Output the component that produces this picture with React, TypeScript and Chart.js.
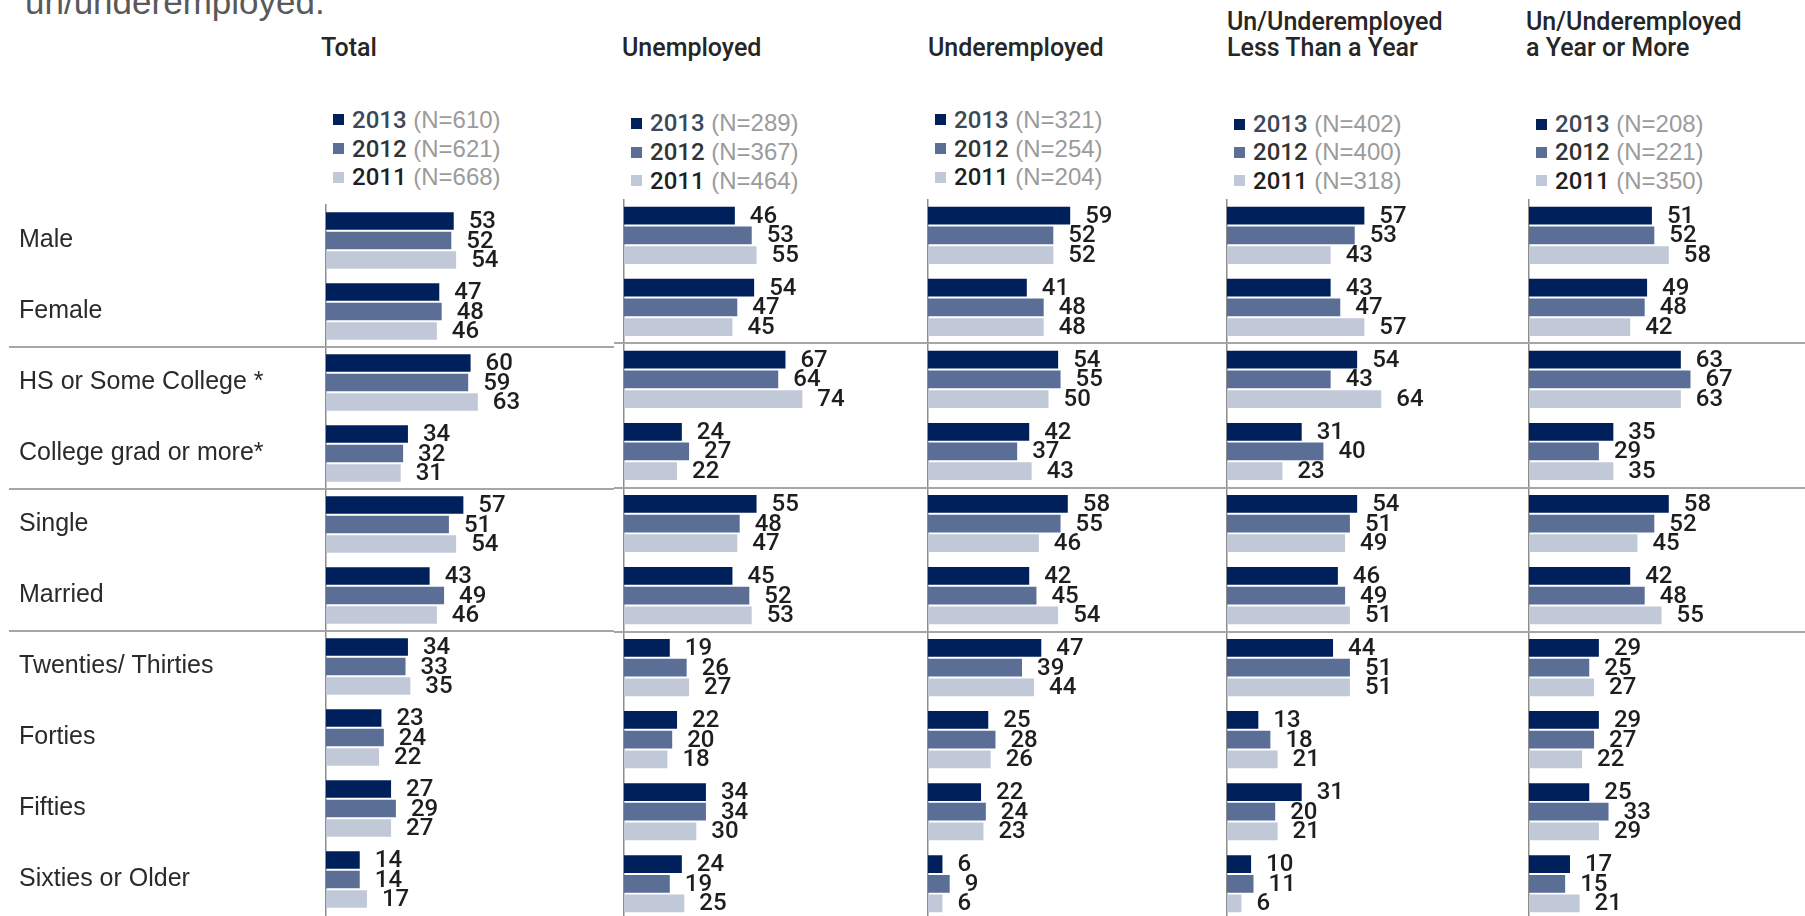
import React, { useEffect, useRef } from 'react';
import { Chart, registerables } from 'chart.js';

Chart.register(...registerables);

// ---------- DATA ----------
const categories = [
  'Male',
  'Female',
  'HS or Some College *',
  'College grad or more*',
  'Single',
  'Married',
  'Twenties/ Thirties',
  'Forties',
  'Fifties',
  'Sixties or Older',
];
const years = ['2013', '2012', '2011'];
const groupBreaks = [2, 4, 6];

const panelTitles = [
  ['Total'],
  ['Unemployed'],
  ['Underemployed'],
  ['Un/Underemployed', 'Less Than a Year'],
  ['Un/Underemployed', 'a Year or More'],
];

const totalN = [610, 621, 668];
const unemployedN = [289, 367, 464];
const underemployedN = [321, 254, 204];
const lessYearN = [402, 400, 318];
const yearMoreN = [208, 221, 350];

const total2013 = [53, 47, 60, 34, 57, 43, 34, 23, 27, 14];
const total2012 = [52, 48, 59, 32, 51, 49, 33, 24, 29, 14];
const total2011 = [54, 46, 63, 31, 54, 46, 35, 22, 27, 17];

const unemployed2013 = [46, 54, 67, 24, 55, 45, 19, 22, 34, 24];
const unemployed2012 = [53, 47, 64, 27, 48, 52, 26, 20, 34, 19];
const unemployed2011 = [55, 45, 74, 22, 47, 53, 27, 18, 30, 25];

const underemployed2013 = [59, 41, 54, 42, 58, 42, 47, 25, 22, 6];
const underemployed2012 = [52, 48, 55, 37, 55, 45, 39, 28, 24, 9];
const underemployed2011 = [52, 48, 50, 43, 46, 54, 44, 26, 23, 6];

const lessYear2013 = [57, 43, 54, 31, 54, 46, 44, 13, 31, 10];
const lessYear2012 = [53, 47, 43, 40, 51, 49, 51, 18, 20, 11];
const lessYear2011 = [43, 57, 64, 23, 49, 51, 51, 21, 21, 6];

const yearMore2013 = [51, 49, 63, 35, 58, 42, 29, 29, 25, 17];
const yearMore2012 = [52, 48, 67, 29, 52, 48, 25, 27, 33, 15];
const yearMore2011 = [58, 42, 63, 35, 45, 55, 27, 22, 29, 21];

const panelSeries = [
  [total2013, total2012, total2011],
  [unemployed2013, unemployed2012, unemployed2011],
  [underemployed2013, underemployed2012, underemployed2011],
  [lessYear2013, lessYear2012, lessYear2011],
  [yearMore2013, yearMore2012, yearMore2011],
];
const panelN = [totalN, unemployedN, underemployedN, lessYearN, yearMoreN];

// ---------- STYLE / LAYOUT ----------
const FONT = "'Liberation Sans', Arial, Helvetica, sans-serif";
const MED_FONT = "Roboto, 'Liberation Sans', Arial, sans-serif";
const BAR_COLORS = ['#00205b', '#5b6e96', '#c1c8d8'];
const YEAR_TEXT = ['#3c4858', '#333333', '#1f1f1f'];
const PAGE_W = 1805;
const PAGE_H = 916;
const AXIS_X = [326, 624, 928, 1227, 1529];
const HEAD_X = [321, 622, 928, 1227, 1526];
const PLOT_TOP = 199.3;
const PLOT_BOTTOM = 919.8;
const PLOT_W = 241;
const CANVAS_TOP = 190;
const CANVAS_H = 740;
const LEGEND_Y = [
  [119.7, 148.5, 177.3],
  [123.2, 152, 180.7],
  [119.7, 148.5, 177.3],
  [124.3, 152, 180.7],
  [124.3, 152, 180.7],
];

const valueLabelPlugin = {
  id: 'valueLabels',
  afterDatasetsDraw(chart: any) {
    const ctx = chart.ctx;
    ctx.save();
    ctx.font = `500 24px ${MED_FONT}`;
    ctx.fillStyle = '#1e1e1e';
    ctx.textAlign = 'left';
    ctx.textBaseline = 'middle';
    chart.data.datasets.forEach((ds: any, di: number) => {
      const meta = chart.getDatasetMeta(di);
      meta.data.forEach((bar: any, j: number) => {
        ctx.fillText(String(ds.data[j]), bar.x + 15, bar.y + 1);
      });
    });
    ctx.restore();
  },
};

const separatorPlugin = {
  id: 'separators',
  afterDraw(chart: any) {
    const y = chart.scales.y;
    const ctx = chart.ctx;
    ctx.save();
    ctx.strokeStyle = '#a6a6a6';
    ctx.lineWidth = 2;
    groupBreaks.forEach((i) => {
      const py = Math.round((y.getPixelForValue(i - 1) + y.getPixelForValue(i)) / 2);
      ctx.beginPath();
      ctx.moveTo(0, py);
      ctx.lineTo(chart.width, py);
      ctx.stroke();
    });
    ctx.restore();
  },
};

function PanelChart({ idx }: { idx: number }) {
  const ref = useRef<HTMLCanvasElement>(null);
  const left = idx === 0 ? 9 : AXIS_X[idx] - 10;
  const right = idx < AXIS_X.length - 1 ? AXIS_X[idx + 1] - 10 : PAGE_W;
  const width = right - left;
  const offset = AXIS_X[idx] - left;

  useEffect(() => {
    if (!ref.current) return;
    const chart = new Chart(ref.current, {
      type: 'bar',
      data: {
        labels: categories,
        datasets: panelSeries[idx].map((d, k) => ({
          label: years[k],
          data: d,
          backgroundColor: BAR_COLORS[k],
          borderWidth: 0,
          categoryPercentage: 0.82,
          barPercentage: 0.9,
        })),
      },
      options: {
        indexAxis: 'y',
        responsive: false,
        animation: false,
        events: [],
        layout: {
          padding: {
            top: PLOT_TOP - CANVAS_TOP,
            bottom: CANVAS_TOP + CANVAS_H - PLOT_BOTTOM,
            left: 10,
            right: width - offset - PLOT_W,
          },
        },
        scales: {
          x: { display: false, min: 0, max: 100 },
          y: {
            type: 'category',
            grid: { display: false },
            border: { display: true, color: '#8c8c8c', width: 1.5 },
            ticks: {
              display: idx === 0,
              autoSkip: false,
              font: { family: FONT, size: 25 },
              color: '#2a2a2a',
              crossAlign: 'far',
              padding: 0,
            },
            afterFit: (s: any) => {
              s.width = offset - 10;
            },
          },
        },
        plugins: { legend: { display: false }, tooltip: { enabled: false } },
      } as any,
      plugins: [valueLabelPlugin, separatorPlugin],
    });
    return () => chart.destroy();
  }, []);

  return (
    <canvas
      ref={ref}
      width={width}
      height={CANVAS_H}
      style={{ position: 'absolute', left, top: CANVAS_TOP, width, height: CANVAS_H }}
    />
  );
}

function Header({ idx }: { idx: number }) {
  const lines = panelTitles[idx];
  const centers = lines.length === 1 ? [48] : [22, 48];
  return (
    <>
      {lines.map((t, i) => (
        <div
          key={i}
          style={{
            position: 'absolute',
            left: HEAD_X[idx],
            top: centers[i] - 14,
            height: 28,
            lineHeight: '28px',
            fontFamily: MED_FONT,
            fontWeight: 500,
            fontSize: 25,
            color: '#262626',
            whiteSpace: 'nowrap',
          }}
        >
          {t}
        </div>
      ))}
    </>
  );
}

function Legend({ idx }: { idx: number }) {
  return (
    <>
      {years.map((y, k) => (
        <div
          key={y}
          style={{
            position: 'absolute',
            left: AXIS_X[idx] + 7,
            top: LEGEND_Y[idx][k] - 14,
            height: 28,
            lineHeight: '28px',
            display: 'flex',
            alignItems: 'center',
            fontFamily: FONT,
            fontSize: 24,
            whiteSpace: 'pre',
          }}
        >
          <span
            style={{
              display: 'inline-block',
              width: 11,
              height: 11,
              background: BAR_COLORS[k],
              marginRight: 8,
            }}
          />
          <span style={{ color: YEAR_TEXT[k], fontFamily: MED_FONT, fontWeight: 500 }}>{y}</span>
          <span style={{ color: '#9b9b9b' }}>{` (N=${panelN[idx][k]})`}</span>
        </div>
      ))}
    </>
  );
}

export default function App() {
  return (
    <div
      style={{
        position: 'fixed',
        left: 0,
        top: 0,
        width: PAGE_W,
        height: PAGE_H,
        overflow: 'hidden',
        background: '#ffffff',
        fontFamily: FONT,
      }}
    >
      <div
        style={{
          position: 'absolute',
          left: 25,
          top: -15,
          fontSize: 35,
          lineHeight: '34px',
          color: '#595959',
          whiteSpace: 'nowrap',
        }}
      >
        un/underemployed.
      </div>
      {AXIS_X.map((_, i) => (
        <Header key={'h' + i} idx={i} />
      ))}
      {AXIS_X.map((_, i) => (
        <Legend key={'l' + i} idx={i} />
      ))}
      {AXIS_X.map((_, i) => (
        <PanelChart key={'c' + i} idx={i} />
      ))}
    </div>
  );
}
